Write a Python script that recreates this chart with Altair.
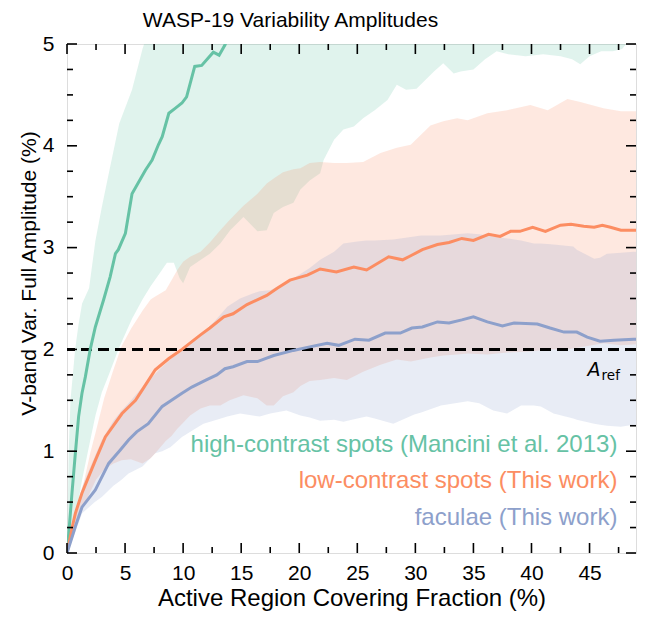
import altair as alt
import pandas as pd

# ---------------- data ----------------
green_line_x = [0, 0.15, 0.43, 0.72, 1.0, 1.29, 1.58, 2.0, 2.44, 3.16, 3.71, 4.17, 4.42, 5.03, 5.6, 6.75,
                7.33, 7.87, 8.2, 8.77, 9.34, 9.9, 10.3, 11.0, 11.6, 12.6, 13.1, 13.6, 14.0]
green_line_y = [0, 0.19, 0.59, 0.98, 1.34, 1.57, 1.73, 2.0, 2.22, 2.49, 2.71, 2.94, 2.98, 3.14, 3.53, 3.76,
                3.86, 4.01, 4.09, 4.32, 4.37, 4.42, 4.48, 4.78, 4.79, 4.92, 4.89, 4.99, 5.1]

green_band_x = [0, 0.15, 0.3, 0.7, 1.0, 1.3, 1.9, 2.45, 3.0, 3.6, 4.5, 5.6, 6.5, 7.2, 8.0, 8.6, 9.2, 9.7,
                10.0, 10.6, 12.3, 13.2, 14.05, 15.2, 16.4, 17.2, 17.8, 18.6, 19.5, 20.1, 20.9, 21.8, 22.1,
                23.0, 23.8, 24.7, 25.5, 26.5, 27.6, 28.4, 29.2, 30.1, 31.6, 32.4, 33.3, 33.9, 35.0, 36.0,
                37.0, 38.0, 39.5, 41.0, 42.5, 43.5, 44.2, 45.0, 46.0, 47.0, 47.8, 48.3, 49.0]
green_band_lo = [0, 0.08, 0.15, 0.35, 0.52, 0.72, 1.05, 1.35, 1.58, 1.75, 2.02, 2.3, 2.49, 2.62, 2.75, 2.85,
                 2.85, 2.7, 2.65, 2.81, 2.94, 3.04, 3.17, 3.30, 3.16, 3.17, 3.34, 3.40, 3.44, 3.57, 3.66, 3.73,
                 3.86, 4.06, 4.16, 4.19, 4.27, 4.35, 4.45, 4.60, 4.55, 4.56, 4.73, 4.81, 4.71, 4.73, 4.75, 4.85,
                 4.93, 4.90, 4.88, 4.90, 4.88, 4.85, 4.80, 4.88, 4.93, 4.93, 4.95, 5.02, 5.02]
green_band_hi = [0, 1.0, 1.5, 2.0, 2.25, 2.45, 2.6, 3.07, 3.4, 3.73, 4.22, 4.55, 4.95, 5.2, 5.4, 5.5, 5.6, 5.7,
                 5.8, 5.9, 6.0, 6.1, 6.2, 6.3, 6.4, 6.5, 6.5, 6.6, 6.6, 6.7, 6.7, 6.8, 6.8, 6.8, 6.9, 6.9, 6.9,
                 7.0, 7.0, 7.0, 7.0, 7.1, 7.1, 7.1, 7.1, 7.1, 7.2, 7.2, 7.2, 7.2, 7.2, 7.3, 7.3, 7.3, 7.3, 7.3,
                 7.3, 7.3, 7.3, 7.3, 7.3]

orange_line_x = [0, 0.5, 0.72, 1.29, 2.44, 3.3, 4.74, 5.9, 6.47, 7.6, 8.77, 9.9, 11.47, 12.3, 13.5, 14.3,
                 15.5, 17.2, 18.1, 19.2, 20.1, 20.7, 21.8, 23.2, 24.7, 25.8, 27.7, 28.9, 29.6, 30.6, 31.9,
                 32.9, 34.0, 35.0, 36.3, 37.3, 38.2, 39.0, 40.1, 41.2, 42.5, 43.4, 44.5, 45.4, 46.1, 46.8,
                 47.7, 49.0]
orange_line_y = [0, 0.28, 0.39, 0.59, 0.91, 1.14, 1.37, 1.50, 1.60, 1.80, 1.91, 2.0, 2.14, 2.21, 2.32, 2.35,
                 2.44, 2.53, 2.60, 2.68, 2.71, 2.73, 2.79, 2.76, 2.81, 2.78, 2.91, 2.88, 2.92, 2.98, 3.03,
                 3.05, 3.09, 3.07, 3.13, 3.11, 3.16, 3.16, 3.20, 3.16, 3.22, 3.23, 3.21, 3.20, 3.22, 3.20,
                 3.17, 3.17]

orange_band_x = [0, 0.7, 1.3, 2.0, 2.5, 3.2, 4.0, 4.7, 5.5, 6.5, 7.2, 7.6, 8.5, 9.0, 9.5, 10.0, 10.6, 11.5,
                 12.3, 13.2, 14.0, 15.2, 16.4, 17.2, 17.8, 18.6, 19.5, 20.1, 20.9, 21.8, 23.0, 24.1, 25.5,
                 27.0, 28.4, 29.6, 31.3, 32.4, 33.6, 34.5, 36.2, 37.9, 39.9, 41.4, 43.1, 44.2, 46.2, 47.7, 49.0]
orange_band_lo = [0, 0.22, 0.42, 0.6, 0.72, 0.82, 0.88, 0.91, 0.92, 0.88, 0.93, 0.98, 1.1, 1.15, 1.22, 1.28,
                  1.35, 1.42, 1.45, 1.45, 1.5, 1.55, 1.52, 1.45, 1.45, 1.54, 1.58, 1.64, 1.69, 1.70, 1.72,
                  1.70, 1.78, 1.85, 1.90, 1.88, 1.92, 1.94, 1.95, 1.96, 1.95, 1.97, 1.98, 2.0, 2.0, 2.02,
                  2.06, 2.04, 2.05]
orange_band_hi = [0, 0.35, 0.62, 0.98, 1.2, 1.52, 1.8, 2.03, 2.2, 2.38, 2.49, 2.52, 2.58, 2.68, 2.78, 2.86,
                  2.91, 2.96, 3.05, 3.17, 3.27, 3.41, 3.53, 3.63, 3.68, 3.74, 3.77, 3.78, 3.83, 3.84, 3.83,
                  3.83, 3.84, 3.93, 3.98, 4.01, 4.20, 4.24, 4.27, 4.25, 4.32, 4.35, 4.40, 4.35, 4.46, 4.43,
                  4.37, 4.34, 4.34]

blue_line_x = [0, 0.5, 0.72, 1.29, 2.44, 3.59, 4.57, 5.3, 6.0, 7.0, 8.2, 9.0, 9.9, 10.75, 12.0, 12.9, 13.6,
               14.3, 15.5, 16.4, 17.8, 19.5, 20.7, 22.4, 23.4, 24.8, 26.0, 27.4, 28.7, 29.7, 30.6, 31.9,
               32.9, 34.0, 35.0, 36.2, 37.5, 38.5, 40.5, 41.6, 42.8, 43.9, 44.8, 45.9, 47.1, 48.8, 49.0]
blue_line_y = [0, 0.18, 0.26, 0.45, 0.62, 0.88, 1.01, 1.11, 1.19, 1.27, 1.44, 1.50, 1.57, 1.63, 1.70, 1.75,
               1.81, 1.83, 1.88, 1.88, 1.94, 1.99, 2.02, 2.06, 2.04, 2.10, 2.09, 2.16, 2.16, 2.21, 2.22, 2.27,
               2.26, 2.29, 2.32, 2.27, 2.23, 2.26, 2.25, 2.21, 2.17, 2.17, 2.12, 2.08, 2.09, 2.10, 2.10]

blue_band_x = [0, 0.7, 1.3, 2.4, 3.0, 4.0, 4.7, 5.3, 6.5, 7.6, 8.2, 8.9, 9.9, 10.9, 11.75, 12.9, 13.8, 14.9,
               16.0, 16.6, 17.5, 18.9, 20.1, 20.9, 21.8, 23.0, 23.8, 25.0, 25.8, 26.5, 28.1, 29.9, 30.5,
               32.2, 34.5, 35.5, 36.7, 37.9, 39.1, 40.2, 40.8, 41.9, 43.6, 43.9, 45.4, 45.9, 46.5, 47.7,
               48.8, 49.0]
blue_band_lo = [0, 0.2, 0.39, 0.5, 0.55, 0.66, 0.72, 0.78, 0.85, 0.98, 1.0, 1.04, 1.14, 1.21, 1.27, 1.31,
                1.34, 1.37, 1.35, 1.34, 1.37, 1.40, 1.35, 1.33, 1.30, 1.31, 1.29, 1.32, 1.34, 1.32, 1.27,
                1.36, 1.38, 1.45, 1.49, 1.47, 1.40, 1.37, 1.45, 1.45, 1.44, 1.37, 1.32, 1.31, 1.27, 1.26,
                1.25, 1.24, 1.26, 1.26]
blue_band_hi = [0, 0.38, 0.65, 0.95, 1.11, 1.3, 1.40, 1.47, 1.63, 1.76, 1.83, 1.9, 2.0, 2.1, 2.16, 2.3,
                2.42, 2.5, 2.55, 2.57, 2.58, 2.66, 2.74, 2.8, 2.88, 2.96, 3.04, 3.06, 3.07, 3.07, 3.08,
                3.11, 3.12, 3.12, 3.14, 3.13, 3.11, 3.09, 3.07, 3.04, 3.04, 3.03, 3.01, 2.98, 2.89, 2.9,
                2.94, 2.95, 2.96, 2.96]

a_ref = [2.0]
legend_labels = ["high-contrast spots (Mancini et al. 2013)", "low-contrast spots (This work)",
                 "faculae (This work)"]
legend_y = [0.995, 0.636, 0.275]
legend_x = [47.4, 47.4, 47.4]

x_major = [0, 5, 10, 15, 20, 25, 30, 35, 40, 45]
x_minor = [2.5, 7.5, 12.5, 17.5, 22.5, 27.5, 32.5, 37.5, 42.5, 47.5]
y_major = [0, 1, 2, 3, 4, 5]
y_minor = [0.25, 0.5, 0.75, 1.25, 1.5, 1.75, 2.25, 2.5, 2.75, 3.25, 3.5, 3.75, 4.25, 4.5, 4.75]

GREEN, ORANGE, BLUE = "#66c2a5", "#fc8d62", "#8da0cb"
W, H = 569, 509
FONT = "Liberation Sans"

xs = alt.Scale(domain=[0, 49], nice=False, zero=False)
ys = alt.Scale(domain=[0, 5], nice=False, zero=False)

xaxis = alt.Axis(title="Active Region Covering Fraction  (%)", values=x_major, ticks=False, tickSize=0,
                 domain=False, grid=False, labelFontSize=21, labelFont=FONT, labelColor="black",
                 labelPadding=9, titleFontSize=24, titleFont=FONT, titleFontWeight="normal",
                 titleColor="black", titleY=52, titleBaseline="alphabetic", labelFlush=False)
yaxis = alt.Axis(title="V-band Var. Full Amplitude  (%)", values=y_major, ticks=False, tickSize=0,
                 domain=False, grid=False, labelFontSize=21, labelFont=FONT, labelColor="black",
                 labelPadding=13, titleFontSize=21, titleFont=FONT, titleFontWeight="normal",
                 titleColor="black", titleX=-38, titleY=229, titleAlign="center",
                 titleBaseline="middle", titleAngle=-90, labelFlush=False)

X = alt.X("x:Q", scale=xs, axis=xaxis)
Y = alt.Y("y:Q", scale=ys, axis=yaxis)


def band(xv, lo, hi, color):
    df = pd.DataFrame({"x": xv, "y": lo, "y2": hi})
    return alt.Chart(df).mark_area(color=color, opacity=0.2, clip=True, interpolate="linear").encode(
        x=X, y=Y, y2="y2:Q")


def line(xv, yv, color):
    df = pd.DataFrame({"x": xv, "y": yv})
    return alt.Chart(df).mark_line(color=color, strokeWidth=3, clip=True).encode(x=X, y=Y)


layers = [
    band(green_band_x, green_band_lo, green_band_hi, GREEN),
    band(orange_band_x, orange_band_lo, orange_band_hi, ORANGE),
    band(blue_band_x, blue_band_lo, blue_band_hi, BLUE),
]

dash = alt.Chart(pd.DataFrame({"y": a_ref})).mark_rule(
    color="black", strokeWidth=3, strokeDash=[11, 6]).encode(y=Y)
layers.append(dash)

layers += [
    line(green_line_x, green_line_y, GREEN),
    line(orange_line_x, orange_line_y, ORANGE),
    line(blue_line_x, blue_line_y, BLUE),
]

leg = pd.DataFrame({"x": legend_x, "y": legend_y, "t": legend_labels,
                    "c": [GREEN, ORANGE, BLUE]})
layers.append(alt.Chart(leg).mark_text(align="right", baseline="alphabetic", fontSize=24,
                                       font=FONT).encode(
    x=X, y=Y, text="t:N", color=alt.Color("c:N", scale=None)))

aref_df = pd.DataFrame({"x": [45.95], "y": [1.74]})
layers.append(alt.Chart(aref_df).mark_text(text="A", align="right", baseline="alphabetic",
                                           fontSize=19, font="DejaVu Sans", fontStyle="italic",
                                           color="black").encode(x=X, y=Y))
layers.append(alt.Chart(aref_df).mark_text(text="ref", align="left", baseline="alphabetic",
                                           fontSize=13.5, font="DejaVu Sans", dx=1, dy=4,
                                           color="black").encode(x=X, y=Y))

# inward ticks on all four sides
MAJ, MIN = 10, 6
xt_maj = pd.DataFrame({"x": x_major})
xt_min = pd.DataFrame({"x": x_minor})
yt_maj = pd.DataFrame({"y": y_major})
yt_min = pd.DataFrame({"y": y_minor})
for df, ln in [(xt_maj, MAJ), (xt_min, MIN)]:
    layers.append(alt.Chart(df).mark_rule(color="black", strokeWidth=1.6).encode(
        x=X, y=alt.value(H), y2=alt.value(H - ln)))
    layers.append(alt.Chart(df).mark_rule(color="black", strokeWidth=1.6).encode(
        x=X, y=alt.value(0), y2=alt.value(ln)))
for df, ln in [(yt_maj, MAJ), (yt_min, MIN)]:
    layers.append(alt.Chart(df).mark_rule(color="black", strokeWidth=1.6).encode(
        y=Y, x=alt.value(0), x2=alt.value(ln)))
    layers.append(alt.Chart(df).mark_rule(color="black", strokeWidth=1.6).encode(
        y=Y, x=alt.value(W), x2=alt.value(W - ln)))

chart = alt.layer(*layers).properties(
    width=W, height=H,
    title=alt.TitleParams("WASP-19 Variability Amplitudes", fontSize=21, font=FONT,
                          fontWeight="normal", color="black", anchor="middle", frame="group",
                          dx=-61, offset=2),
    padding={"left": 59, "top": 36, "right": 10, "bottom": 58},
    autosize=alt.AutoSizeParams(type="none"),
).configure_view(stroke="black", strokeWidth=2).configure(background="white")

chart.save("out.html", embed_options={"renderer": "svg", "actions": False})
